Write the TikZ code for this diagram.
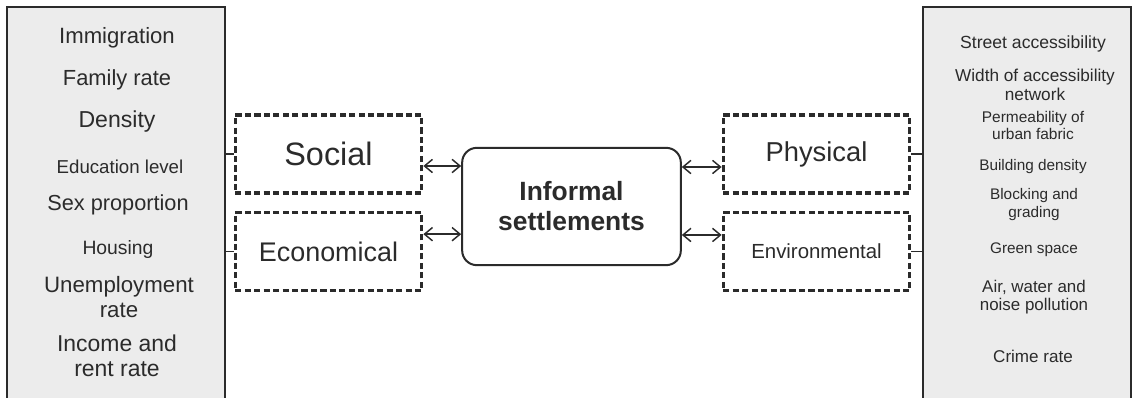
\documentclass[tikz,border=0pt]{standalone}
\usepackage{fontspec}
\setmainfont{Liberation Sans}
\usetikzlibrary{arrows.meta}

\definecolor{ink}{HTML}{2B2B2B}
\definecolor{panel}{HTML}{ECECEC}
\newcommand{\fsz}[2]{\fontsize{#1}{#2}\selectfont}

\tikzset{
  listbox/.style={draw=ink, fill=panel, line width=1.6pt, minimum height=302pt, inner sep=0pt},
  catbox/.style={draw=ink, line width=2.3pt, dash pattern=on 4.6pt off 2.5pt, minimum width=140pt, minimum height=58.5pt, inner sep=0pt, text=ink},
  hubbox/.style={draw=ink, line width=1.5pt, rounded corners=11pt, minimum width=164pt, minimum height=88pt, align=center, text=ink},
  item/.style={text=ink, align=center, inner sep=0pt},
  biarrow/.style={draw=ink, line width=1.1pt, {Straight Barb[length=6pt,width=10pt]}-{Straight Barb[length=6pt,width=10pt]}},
  tick/.style={draw=ink, line width=1pt}
}

\begin{document}
\begin{tikzpicture}[x=0.75pt,y=-0.75pt]

  \useasboundingbox (0,0) rectangle (1133,398);
  \clip (0,0) rectangle (1133,398);

%%%%%%%%%%%%%%%%%%%%%%%%%%%%%%%%%%%%%%%%%%
  % Side panels
  \node[listbox, minimum width=163.5pt] (lbox) at (116,208.5) {};
  \node[listbox, minimum width=156pt] (rbox) at (1027,208.5) {};

  % Left panel items
  \node[item, font=\fsz{16.6pt}{19pt}] (immig) at (117,38) {Immigration};
  \node[item, font=\fsz{16.4pt}{19pt}] (family) at (117,80) {Family rate};
  \node[item, font=\fsz{17.3pt}{20pt}] (dens) at (117,122) {Density};
  \node[item, font=\fsz{14pt}{16pt}] (edu) at (120,167) {Education level};
  \node[item, font=\fsz{16.3pt}{19pt}] (sex) at (118,205) {Sex proportion};
  \node[item, font=\fsz{14.5pt}{17pt}] (housing) at (118,250) {Housing};
  \node[item, font=\fsz{16.7pt}{18.75pt}] (unemp) at (119,297) {Unemployment\\rate};
  \node[item, font=\fsz{17.2pt}{18.75pt}] (income) at (117,356) {Income and\\rent rate};

  % Right panel items
  \node[item, font=\fsz{13.2pt}{15pt}] (street) at (1033,44) {Street accessibility};
  \node[item, font=\fsz{12.9pt}{14.25pt}] (width) at (1035,85) {Width of accessibility\\network};
  \node[item, font=\fsz{11.6pt}{12.75pt}] (perm) at (1033,125) {Permeability of\\urban fabric};
  \node[item, font=\fsz{11.5pt}{13pt}] (build) at (1033,167) {Building density};
  \node[item, font=\fsz{11.5pt}{13.5pt}] (block) at (1034,205) {Blocking and\\grading};
  \node[item, font=\fsz{11.5pt}{13pt}] (green) at (1034,250) {Green space};
  \node[item, font=\fsz{12.7pt}{13.5pt}] (air) at (1034,297.5) {Air, water and\\noise pollution};
  \node[item, font=\fsz{12.8pt}{14pt}] (crime) at (1033,356) {Crime rate};

%%%%%%%%%%%%%%%%%%%%%%%%%%%%%%%%%%%%%%%%%%
  % Categories
  \node[catbox, font=\fsz{24.3pt}{28pt}] (social) at (328.5,154) {Social};
  \node[catbox, font=\fsz{20.2pt}{24pt}] (econ) at (328.5,251.5) {Economical};
  \node[catbox, font=\fsz{20.5pt}{24pt}] (phys) at (816.5,154) {Physical};
  \node[catbox, font=\fsz{15.3pt}{18pt}] (env) at (816.5,251.5) {Environmental};

  % Central box
  \node[hubbox, font=\bfseries\fsz{19.8pt}{22.5pt}] (hub) at (571.5,206.5) {Informal\\settlements};

%%%%%%%%%%%%%%%%%%%%%%%%%%%%%%%%%%%%%%%%%%
  % Ticks to the panels
  \draw[tick] (social.west) -- (social.west -| lbox.east);
  \draw[tick] (econ.west) -- (econ.west -| lbox.east);
  \draw[tick] (phys.east) -- (phys.east -| rbox.west);
  \draw[tick] (env.east) -- (env.east -| rbox.west);

  % Arrows to the central box
  \draw[biarrow] ([yshift=-9pt]social.east) -- ([yshift=-9pt]social.east -| hub.west);
  \draw[biarrow] ([yshift=13pt]econ.east) -- ([yshift=13pt]econ.east -| hub.west);
  \draw[biarrow] ([yshift=-9.75pt]phys.west -| hub.east) -- ([yshift=-9.75pt]phys.west);
  \draw[biarrow] ([yshift=12.4pt]env.west -| hub.east) -- ([yshift=12.4pt]env.west);

\end{tikzpicture}
\end{document}
